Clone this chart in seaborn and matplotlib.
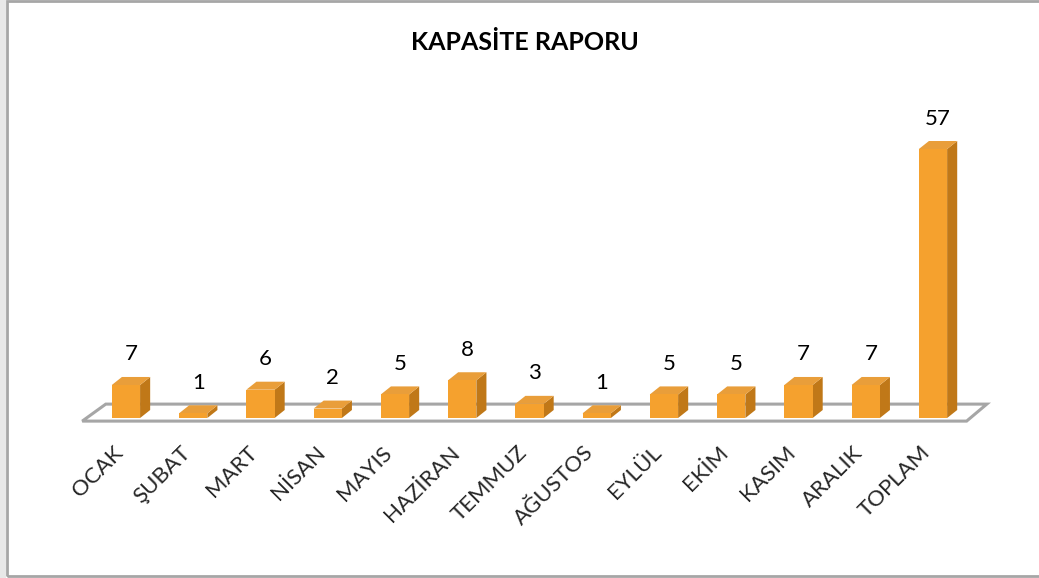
import matplotlib
matplotlib.use('Agg')
import matplotlib.pyplot as plt
import matplotlib.transforms as mtransforms
import seaborn as sns
import pandas as pd
from matplotlib.patches import Polygon, Rectangle

# chart data
months = ['OCAK', 'ŞUBAT', 'MART', 'NİSAN', 'MAYIS', 'HAZİRAN', 'TEMMUZ',
          'AĞUSTOS', 'EYLÜL', 'EKİM', 'KASIM', 'ARALIK', 'TOPLAM']
counts = [7, 1, 6, 2, 5, 8, 3, 1, 5, 5, 7, 7, 57]
title = 'KAPASİTE RAPORU'

front_color = '#F5A12E'
side_color = '#C07818'
top_color = '#E99E3A'
floor_edge = '#A6A6A6'

sns.set_theme(style='white')
plt.rcParams['font.family'] = ['Lato', 'DejaVu Sans']

fig = plt.figure(figsize=(10.39, 5.78), dpi=100)
ax = fig.add_axes([0.0565, 0.2441, 0.9062, 0.5389])

df = pd.DataFrame({'ay': months, 'adet': counts})
sns.barplot(data=df, x='ay', y='adet', color=front_color, width=0.42,
            saturation=1, ax=ax, zorder=3)

n = len(months)
ax.set_xlim(-1, n)
ax.set_ylim(-4, 62)

# pseudo 3D depth (data units)
dx, dy = 0.15, 1.7

# floor
floor = Polygon([(-0.65, -0.65), (n - 0.5, -0.65), (n - 0.5 + 0.3, 2.95), (-0.65 + 0.35, 2.95)],
                closed=True, facecolor='white', edgecolor=floor_edge, lw=2.2, zorder=1)
ax.add_patch(floor)

# side and top faces of every bar
for p in list(ax.patches):
    if p is floor:
        continue
    x0, w, h = p.get_x(), p.get_width(), p.get_height()
    side = Polygon([(x0 + w, 0), (x0 + w + dx, dy), (x0 + w + dx, h + dy), (x0 + w, h)],
                   closed=True, facecolor=side_color, edgecolor='none', zorder=2.9)
    top = Polygon([(x0, h), (x0 + dx, h + dy), (x0 + w + dx, h + dy), (x0 + w, h)],
                  closed=True, facecolor=top_color, edgecolor='none', zorder=2.9)
    ax.add_patch(side)
    ax.add_patch(top)
    p.set_edgecolor('none')

# value labels
for i, v in enumerate(counts):
    ax.annotate(str(v), xy=(i + dx / 2, v + dy), xytext=(0, 9), textcoords='offset points',
                ha='center', va='bottom', fontsize=16, color='black')

ax.set_xticks(range(n))
ax.set_xticklabels(months, rotation=45, ha='right', rotation_mode='anchor', fontsize=16)
ax.tick_params(axis='x', length=0, pad=4)
shift = mtransforms.ScaledTranslation(-13 / 100, 0, fig.dpi_scale_trans)
for lab in ax.get_xticklabels():
    lab.set_transform(lab.get_transform() + shift)
ax.set_yticks([])
ax.set_xlabel('')
ax.set_ylabel('')
for s in ax.spines.values():
    s.set_visible(False)
ax.patch.set_alpha(0)

fig.text(0.505, 1 - 43 / 578, title, ha='center', va='center',
         fontsize=18, fontweight='bold', color='black')

# chart border
fig.patches.append(Rectangle((0, 0), 6 / 1039, 1, transform=fig.transFigure,
                             facecolor='#E8E8E8', edgecolor='none', zorder=0))
fig.patches.append(Rectangle((6.5 / 1039, 2.5 / 578), 1.2, 1 - 3.5 / 578, transform=fig.transFigure,
                             fill=False, edgecolor='#A6A6A6', lw=2, zorder=1))

fig.savefig('out.png', dpi=100)
